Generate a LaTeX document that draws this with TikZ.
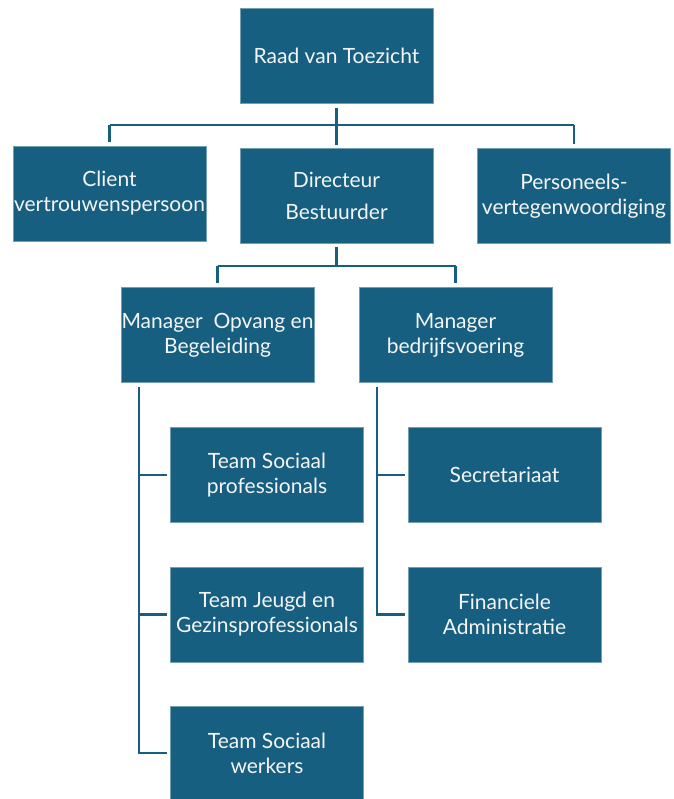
\documentclass[tikz,border=0pt]{standalone}
\usepackage{fontspec}
\setmainfont{Lato}
\usetikzlibrary{calc}
\definecolor{boxblue}{RGB}{23,95,129}
\definecolor{txt}{RGB}{245,245,245}
\tikzset{
  orgbox/.style={fill=boxblue, draw=boxblue!60!white, line width=0.4pt, minimum width=193pt, minimum height=95pt, inner sep=0pt,
    text=txt, align=center, font=\fontsize{21}{25}\selectfont},
  conn/.style={draw=boxblue, line width=2.6pt, line join=miter}
}
\begin{document}
\begin{tikzpicture}[x=1pt,y=-1pt]
\useasboundingbox (0,0) rectangle (673,799);
\node[orgbox] (raad) at (336.5,56) {Raad van Toezicht};
\node[orgbox] (client) at (109.5,193.5) {Client\\vertrouwenspersoon};
\node[orgbox] (dir) at (336.5,196) {Directeur\\[7pt]Bestuurder};
\node[orgbox] (pers) at (574,196) {Personeels-\\vertegenwoordiging};
\node[orgbox] (mo) at (217.5,335) {Manager\ \ Opvang en\\Begeleiding};
\node[orgbox] (mb) at (455.5,335) {Manager\\bedrijfsvoering};
\node[orgbox] (t1) at (267,475) {Team Sociaal\\professionals};
\node[orgbox] (t2) at (267,614.5) {Team Jeugd en\\Gezinsprofessionals};
\node[orgbox, minimum height=94pt] (t3) at (267,753) {Team Sociaal\\werkers};
\node[orgbox] (s1) at (504.5,475) {Secretariaat};
\node[orgbox] (s2) at (504.5,614.5) {Financiele\\Administratie};
% top level
\coordinate (b1) at (336.5,125);
\draw[conn, shorten <=4pt, shorten >=3pt] (raad.south) -- (dir.north);
\draw[conn] (client.north |- b1) -- (pers.north |- b1);
\draw[conn, shorten >=4pt] (client.north |- b1) -- (client.north);
\draw[conn, shorten >=4pt] (pers.north |- b1) -- (pers.north);
% second level
\coordinate (b2) at (336.5,266);
\draw[conn, shorten <=3pt] (dir.south) -- (b2);
\draw[conn] (mo.north |- b2) -- (mb.north |- b2);
\draw[conn, shorten >=4pt] (mo.north |- b2) -- (mo.north);
\draw[conn, shorten >=4pt] (mb.north |- b2) -- (mb.north);
% left column
\coordinate (lo) at ($(mo.south west)+(18,4)$);
\draw[conn] (lo) |- ([xshift=-3pt]t3.west);
\draw[conn] (lo |- t1.west) -- ([xshift=-3pt]t1.west);
\draw[conn] (lo |- t2.west) -- ([xshift=-3pt]t2.west);
% right column
\coordinate (lb) at ($(mb.south west)+(18,4)$);
\draw[conn] (lb) |- ([xshift=-3pt]s2.west);
\draw[conn] (lb |- s1.west) -- ([xshift=-3pt]s1.west);
\end{tikzpicture}
\end{document}
